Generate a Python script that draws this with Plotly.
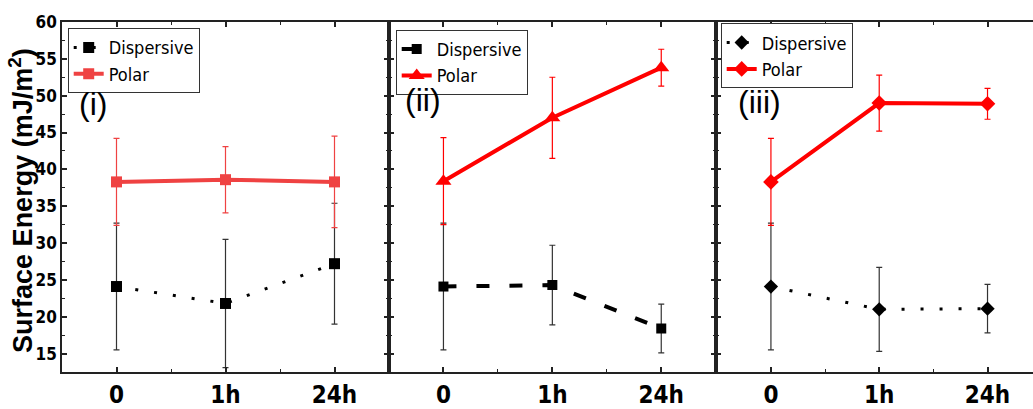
import plotly.graph_objects as go

# ---------------- data ----------------
times = ["0", "1h", "24h"]
xpos = [0, 1, 2]

disp_i = [24.1, 21.8, 27.2]
disp_i_err = [8.6, 8.7, 8.2]
polar_i = [38.3, 38.6, 38.3]
polar_i_err = [5.9, 4.5, 6.2]

disp_ii = [24.1, 24.3, 18.4]
disp_ii_err = [8.6, 5.4, 3.3]
polar_ii = [38.4, 47.0, 53.8]
polar_ii_err = [5.9, 5.5, 2.5]

disp_iii = [24.1, 21.0, 21.1]
disp_iii_err = [8.6, 5.7, 3.3]
polar_iii = [38.3, 49.0, 48.9]
polar_iii_err = [5.9, 3.8, 2.1]

panel_labels = ["(i)", "(ii)", "(iii)"]
series_names = ["Dispersive", "Polar"]
y_title = "Surface Energy (mJ/m<sup>2</sup>)"

# ---------------- style ----------------
NARROW = "'Liberation Sans Narrow', 'Arial Narrow', 'DejaVu Sans Condensed', 'Liberation Sans', Arial, sans-serif"
SANS = "'Liberation Sans', Arial, sans-serif"
W, H = 1033, 409
ML, MR, MT, MB = 62, 0, 22, 31
PW = W - ML - MR
PH = H - MT - MB

def px_x(p):
    return (p - ML) / PW

def px_y(p):
    return 1 - (p - MT) / PH

doms = [[0, px_x(389)], [px_x(389), px_x(715.7)], [px_x(715.7), 1]]
xranges = [[-0.5, 2.5], [-0.5, 2.5], [-0.51, 2.42]]

fig = go.Figure()

panels = [
    dict(disp=disp_i, derr=disp_i_err, pol=polar_i, perr=polar_i_err,
         dsym="square", dsize=11, ddash="3px,16px", dwidth=3,
         psym="square", psize=11, pcolor="#EF4242", leg="legend"),
    dict(disp=disp_ii, derr=disp_ii_err, pol=polar_ii, perr=polar_ii_err,
         dsym="square", dsize=10, ddash="13px,20px", dwidth=4,
         psym="triangle-up", psize=14, pcolor="#FF0000", leg="legend2"),
    dict(disp=disp_iii, derr=disp_iii_err, pol=polar_iii, perr=polar_iii_err,
         dsym="diamond", dsize=11, ddash="3px,16px", dwidth=3,
         psym="diamond", psize=12, pcolor="#FF0000", leg="legend3"),
]

for i, p in enumerate(panels):
    ax = "" if i == 0 else str(i + 1)
    fig.add_trace(go.Scatter(
        x=xpos, y=p["disp"], name=series_names[0], mode="lines+markers",
        xaxis="x" + ax, yaxis="y" + ax, legend=p["leg"],
        line=dict(color="black", width=p["dwidth"], dash=p["ddash"]),
        marker=dict(symbol=p["dsym"], size=p["dsize"], color="black"),
        error_y=dict(type="data", array=p["derr"], color="#333333",
                     thickness=1.2, width=3),
    ))
    fig.add_trace(go.Scatter(
        x=xpos, y=p["pol"], name=series_names[1], mode="lines+markers",
        xaxis="x" + ax, yaxis="y" + ax, legend=p["leg"],
        line=dict(color=p["pcolor"], width=4),
        marker=dict(symbol=p["psym"], size=p["psize"], color=p["pcolor"]),
        error_y=dict(type="data", array=p["perr"], color=p["pcolor"],
                     thickness=1.2, width=3),
    ))

axis_color = "#222222"
for i in range(3):
    ax = "" if i == 0 else str(i + 1)
    fig.update_layout(**{
        "xaxis" + ax: dict(
            domain=doms[i], range=xranges[i], anchor="y" + ax,
            tickmode="array", tickvals=xpos, ticktext=times,
            showline=True, linecolor=axis_color, linewidth=2, mirror="ticks",
            ticks="inside", ticklen=5, tickwidth=1.5, tickcolor=axis_color,
            minor=dict(ticks="inside", ticklen=3, tickwidth=1, tickcolor=axis_color,
                       tick0=0, dtick=0.5),
            showgrid=False, zeroline=False,
            tickfont=dict(family=NARROW, size=24, color="black", weight="bold"),
        ),
        "yaxis" + ax: dict(
            domain=[0, 1], range=[12.5, 60], anchor="x" + ax,
            tick0=0, dtick=5,
            showline=True, linecolor=axis_color, linewidth=1.6,
            mirror=("ticks" if i < 2 else False),
            ticks="inside", ticklen=5, tickwidth=1.5, tickcolor=axis_color,
            minor=dict(ticks="inside", ticklen=3, tickwidth=1, tickcolor=axis_color,
                       dtick=2.5),
            showgrid=False, zeroline=False,
            showticklabels=(i == 0),
            tickfont=dict(family=NARROW, size=17, color="black", weight="bold"),
        ),
    })

leg_common = dict(
    xanchor="left", yanchor="top", bgcolor="white",
    bordercolor="#333333", borderwidth=1,
    font=dict(family=NARROW, size=18, color="black"),
    tracegroupgap=0, itemwidth=30,
)
fig.update_layout(
    legend=dict(x=px_x(67.7), y=px_y(28.3), **leg_common),
    legend2=dict(x=px_x(395.7), y=px_y(30), **leg_common),
    legend3=dict(x=px_x(720.7), y=px_y(23.3), **leg_common),
)

label_pos = [(93, 105), (423, 101), (759, 103)]
for (lx, ly), txt in zip(label_pos, panel_labels):
    fig.add_annotation(x=px_x(lx), y=px_y(ly), xref="paper", yref="paper",
                       text=txt, showarrow=False, xanchor="center", yanchor="middle",
                       font=dict(family=SANS, size=32, color="black"))

fig.add_annotation(x=px_x(21), y=px_y(204), xref="paper", yref="paper",
                   text="<b>" + y_title + "</b>", textangle=-90, showarrow=False,
                   xanchor="center", yanchor="middle",
                   font=dict(family=SANS, size=27, color="black"))

fig.update_layout(
    width=W, height=H, showlegend=True,
    margin=dict(l=ML, r=MR, t=MT, b=MB, pad=0),
    paper_bgcolor="white", plot_bgcolor="white",
)

fig.write_html("out.html")
